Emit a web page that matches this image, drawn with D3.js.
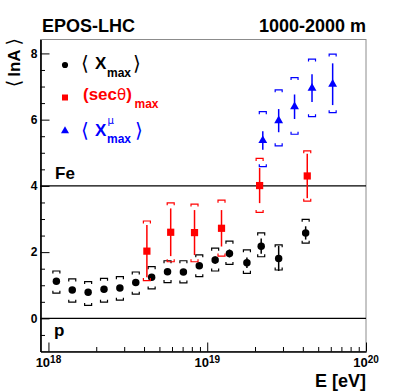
<!DOCTYPE html>
<html lang="en">
<head>
  <meta charset="UTF-8">
  <title>lnA vs energy</title>
  <style>
    body { margin: 0; background: #fff; }
    svg { font-family: "Liberation Sans", Arial, sans-serif; }
  </style>
</head>
<body>
  <svg id="chart" width="407" height="391"></svg>
</body>
<script src="https://cdn.jsdelivr.net/npm/d3@7"></script>
<script>
  // <Xmax> points (black)
  let xmaxLogE = [18.05, 18.15, 18.25, 18.35, 18.45, 18.55, 18.65, 18.75, 18.85, 18.95, 19.05, 19.14, 19.25, 19.34, 19.45, 19.62]
  let xmaxVal  = [1.12, 0.86, 0.79, 0.88, 0.92, 1.08, 1.24, 1.41, 1.40, 1.59, 1.76, 1.96, 1.68, 2.18, 1.81, 2.58]
  let xmaxStat = [0.03, 0.03, 0.03, 0.03, 0.04, 0.05, 0.06, 0.07, 0.08, 0.09, 0.11, 0.12, 0.16, 0.23, 0.38, 0.20]
  let xmaxSysHi = [1.43, 1.19, 1.11, 1.21, 1.26, 1.40, 1.56, 1.74, 1.74, 1.92, 2.12, 2.33, 2.07, 2.58, 2.22, 2.99]
  let xmaxSysLo = [0.76, 0.49, 0.39, 0.49, 0.55, 0.73, 0.89, 1.08, 1.07, 1.26, 1.43, 1.63, 1.36, 1.86, 1.46, 2.27]

  // (sec theta)max points (red)
  let secLogE = [18.62, 18.77, 18.92, 19.09, 19.33, 19.63]
  let secVal  = [2.03, 2.60, 2.59, 2.72, 4.01, 4.30]
  let secStat = [0.79, 0.72, 0.68, 0.55, 0.53, 0.67]
  let secSysHi = [2.94, 3.49, 3.45, 3.57, 4.83, 5.06]
  let secSysLo = [1.14, 1.71, 1.71, 1.88, 3.20, 3.54]

  // <X^mu max> points (blue)
  let muLogE = [19.35, 19.45, 19.55, 19.66, 19.79]
  let muVal  = [5.37, 5.97, 6.39, 6.95, 7.07]
  let muStat = [0.28, 0.35, 0.37, 0.42, 0.63]
  let muSysHi = [6.24, 6.90, 7.27, 7.83, 7.98]
  let muSysLo = [4.58, 5.21, 5.56, 6.09, 6.21]

  let yMajorTicks = [0, 2, 4, 6, 8]
  let xMajorExp = [18, 19, 20]
  let refLines = [{name: "Fe", value: 4}, {name: "p", value: 0}]

  let svg = d3.select("#chart")
  let fLeft = 40.5, fRight = 366, fTop = 39.5, fBottom = 351.5

  let x = d3.scaleLog().domain([Math.pow(10, 17.95), 1e20]).range([fLeft, fRight])
  let y = d3.scaleLinear().domain([-1, 8.42]).range([fBottom, fTop])

  // frame
  svg.append("rect")
     .attr("x", fLeft).attr("y", fTop)
     .attr("width", fRight - fLeft).attr("height", fBottom - fTop)
     .attr("fill", "none").attr("stroke", "#8c8c8c").attr("stroke-width", 1)

  // reference lines
  svg.selectAll(".ref")
     .data(refLines)
     .enter()
     .append("line")
     .attr("x1", fLeft).attr("x2", fRight)
     .attr("y1", d => y(d.value)).attr("y2", d => y(d.value))
     .attr("stroke", "black").attr("stroke-width", 1.3)

  svg.append("text").attr("x", 55).attr("y", 178.5)
     .attr("font-size", 17).attr("font-weight", "bold").text("Fe")
  svg.append("text").attr("x", 54).attr("y", 336)
     .attr("font-size", 17).attr("font-weight", "bold").text("p")

  // y axis: minor then major ticks
  let minorY = d3.range(-0.5, 8.01, 0.5).filter(v => v % 2 !== 0)
  svg.append("g").attr("transform", `translate(${fLeft},0)`)
     .call(d3.axisLeft(y).tickValues(minorY).tickSize(-4.5).tickSizeOuter(0).tickFormat(""))
  let yAx = svg.append("g").attr("transform", `translate(${fLeft},0)`)
     .call(d3.axisLeft(y).tickValues(yMajorTicks).tickSize(-9).tickSizeOuter(0).tickPadding(3).tickFormat(d3.format("d")))
  yAx.selectAll("text").attr("font-size", 12).attr("font-weight", "bold")
     .attr("font-family", "Liberation Sans, Arial, sans-serif")

  // x axis
  let minorX = []
  for (let e = 18; e < 20; e++) for (let m = 2; m <= 9; m++) minorX.push(m * Math.pow(10, e))
  svg.append("g").attr("transform", `translate(0,${fBottom})`)
     .call(d3.axisBottom(x).tickValues(minorX).tickSize(-4.5).tickSizeOuter(0).tickFormat(""))
  svg.append("g").attr("transform", `translate(0,${fBottom})`)
     .call(d3.axisBottom(x).tickValues(xMajorExp.map(e => Math.pow(10, e))).tickSize(-9).tickSizeOuter(0).tickFormat(""))
  svg.selectAll(".domain").attr("stroke", "black").attr("stroke-width", 1.2)
  svg.selectAll(".tick line").attr("stroke", "black")

  let xLab = svg.selectAll(".xlab")
     .data(xMajorExp)
     .enter()
     .append("text")
     .attr("x", d => x(Math.pow(10, d)))
     .attr("y", 367)
     .attr("text-anchor", "middle")
     .attr("font-weight", "bold")
     .attr("font-size", 13)
  xLab.append("tspan").text("10")
  xLab.append("tspan").attr("font-size", 10).attr("dy", -4).text(d => d)

  // axis titles
  svg.append("text").attr("x", 366).attr("y", 387)
     .attr("text-anchor", "end").attr("font-size", 18).attr("font-weight", "bold").text("E [eV]")
  let yt = svg.append("text").attr("transform", "translate(20,38) rotate(-90)")
     .attr("text-anchor", "end").attr("font-size", 17)
  yt.append("tspan").attr("font-family", "DejaVu Sans").attr("font-weight", "normal").attr("font-size", 19).text("\u27E8")
  yt.append("tspan").attr("font-weight", "bold").attr("dx", 3).text("lnA")
  yt.append("tspan").attr("font-family", "DejaVu Sans").attr("font-weight", "normal").attr("font-size", 19).attr("dx", 4).text("\u27E9")

  // titles
  svg.append("text").attr("x", 42).attr("y", 32)
     .attr("font-size", 18).attr("font-weight", "bold").text("EPOS-LHC")
  svg.append("text").attr("x", 366).attr("y", 32).attr("text-anchor", "end")
     .attr("font-size", 18).attr("font-weight", "bold").text("1000-2000 m")

  // series drawing
  function drawSeries(logE, val, stat, sysHi, sysLo, color, shape) {
    let data = logE.map((e, i) => ({
      x: x(Math.pow(10, e)), v: val[i], s: stat[i], hi: sysHi[i], lo: sysLo[i]
    }))
    let g = svg.append("g")
    // systematic brackets
    g.selectAll(".bt").data(data).enter().append("path")
     .attr("d", d => { let yy = y(d.hi); return `M${d.x - 3.5},${yy + 2.5}V${yy}H${d.x + 3.5}V${yy + 2.5}` })
     .attr("fill", "none").attr("stroke", color).attr("stroke-width", 1.2)
    g.selectAll(".bb").data(data).enter().append("path")
     .attr("d", d => { let yy = y(d.lo); return `M${d.x - 3.5},${yy - 2.5}V${yy}H${d.x + 3.5}V${yy - 2.5}` })
     .attr("fill", "none").attr("stroke", color).attr("stroke-width", 1.2)
    // statistical bars
    g.selectAll(".st").data(data).enter().append("line")
     .attr("x1", d => d.x).attr("x2", d => d.x)
     .attr("y1", d => y(d.v + d.s)).attr("y2", d => y(d.v - d.s))
     .attr("stroke", color).attr("stroke-width", 1.5)
    // markers
    g.selectAll(".mk").data(data).enter().append("path")
     .attr("transform", d => `translate(${d.x},${y(d.v)})`)
     .attr("d", d3.symbol().type(shape).size(shape === d3.symbolTriangle ? 34 : shape === d3.symbolSquare ? 52 : 44))
     .attr("fill", color)
  }

  drawSeries(xmaxLogE, xmaxVal, xmaxStat, xmaxSysHi, xmaxSysLo, "black", d3.symbolCircle)
  drawSeries(secLogE, secVal, secStat, secSysHi, secSysLo, "#ff0000", d3.symbolSquare)
  drawSeries(muLogE, muVal, muStat, muSysHi, muSysLo, "#0000ff", d3.symbolTriangle)

  // legend
  let legend = [
    {shape: d3.symbolCircle, color: "black", y: 65, size: 30},
    {shape: d3.symbolSquare, color: "#ff0000", y: 97.5, size: 36},
    {shape: d3.symbolTriangle, color: "#0000ff", y: 131, size: 28}
  ]
  svg.selectAll(".lg").data(legend).enter().append("path")
     .attr("transform", d => `translate(65,${d.y})`)
     .attr("d", d => d3.symbol().type(d.shape).size(d.size)())
     .attr("fill", d => d.color)

  function bracket(xp, yp, ch, color) {
    svg.append("text").attr("x", xp).attr("y", yp).attr("font-family", "DejaVu Sans")
       .attr("font-size", 20).attr("fill", color).text(ch)
  }
  function bold(xp, yp, txt, size, color) {
    svg.append("text").attr("x", xp).attr("y", yp).attr("font-weight", "bold")
       .attr("font-size", size).attr("fill", color).text(txt)
  }

  bracket(81, 70, "\u27E8", "black")
  bold(95, 69, "X", 17, "black")
  bold(107, 76.5, "max", 12, "black")
  bracket(133, 70, "\u27E9", "black")

  let sec = svg.append("text").attr("x", 83).attr("y", 100).attr("fill", "#ff0000").attr("font-size", 17)
  sec.append("tspan").attr("font-weight", "bold").text("(sec")
  sec.append("tspan").attr("font-family", "DejaVu Sans").attr("font-size", 15).text("\u03B8")
  sec.append("tspan").attr("font-weight", "bold").text(")")
  bold(134.5, 107.5, "max", 12, "#ff0000")

  bracket(81, 137, "\u27E8", "#0000ff")
  bold(95, 136, "X", 17, "#0000ff")
  svg.append("text").attr("x", 107.5).attr("y", 124).attr("font-family", "DejaVu Sans")
     .attr("font-size", 10).attr("fill", "#0000ff").text("\u03BC")
  bold(107, 142.5, "max", 12, "#0000ff")
  bracket(135, 137, "\u27E9", "#0000ff")
</script>
</html>
